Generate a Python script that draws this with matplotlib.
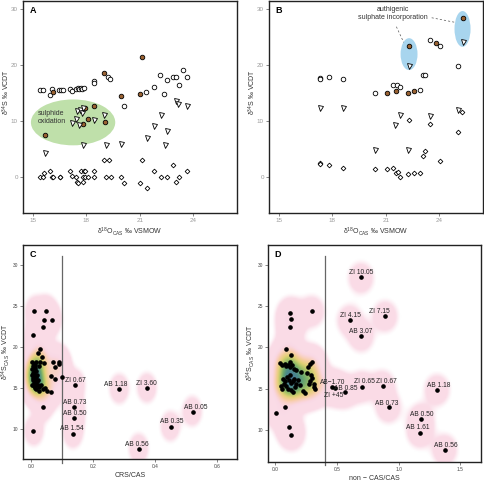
import numpy as np
import matplotlib.pyplot as plt
from matplotlib.patches import Ellipse
from matplotlib.colors import LinearSegmentedColormap

plt.rcParams['font.family'] = ['Liberation Sans', 'DejaVu Sans']
plt.rcParams['mathtext.fontset'] = 'custom'
plt.rcParams['mathtext.rm'] = 'Liberation Sans'
plt.rcParams['mathtext.it'] = 'Liberation Sans:italic'
plt.rcParams['mathtext.bf'] = 'Liberation Sans:bold'

# ---- panel A: d34S vs d18O(CAS)
a_circ_x = [15.43, 15.58, 16.08, 15.99, 16.46, 16.57, 16.70, 17.10, 17.22, 17.44, 17.52, 17.60, 17.70,
            17.78, 17.85, 18.41, 18.41, 19.22, 19.35, 20.09, 21.36, 21.81, 22.15, 22.37, 22.52, 22.84,
            23.04, 23.19, 23.41, 23.64]
a_circ_y = [15.4, 15.4, 15.6, 14.6, 15.4, 15.5, 15.5, 15.6, 15.3, 15.6, 15.9, 15.7, 15.9,
            15.6, 15.9, 17.1, 16.7, 17.8, 17.4, 12.7, 15.2, 16.0, 18.1, 14.7, 17.2, 17.9,
            17.8, 16.3, 19.1, 17.9]
a_brown_x = [15.67, 16.12, 17.95, 17.80, 18.10, 18.43, 18.99, 19.07, 19.96, 21.03, 21.14]
a_brown_y = [7.5, 15.1, 12.2, 9.4, 10.3, 12.7, 18.6, 9.7, 14.5, 14.8, 21.4]
a_tri_x = [15.67, 17.20, 17.44, 17.50, 17.67, 17.74, 17.84, 17.60, 17.80, 18.43, 19.00, 19.09, 19.96,
           21.38, 21.81, 22.18, 22.39, 22.52, 23.02, 23.17, 23.64]
a_tri_y = [4.3, 9.6, 10.3, 11.7, 12.0, 11.4, 12.2, 9.3, 5.6, 10.2, 11.1, 5.6, 5.9,
           7.0, 9.1, 11.1, 5.7, 8.1, 13.5, 12.9, 12.6]
a_dia_x = [15.43, 15.58, 15.65, 15.99, 16.08, 16.12, 16.50, 16.54, 17.09, 17.20,
           17.44, 17.48, 17.52, 17.72, 17.90, 17.95, 17.82, 17.95, 17.80, 18.08,
           18.43, 18.43, 19.00, 19.25, 19.09, 19.37, 19.96, 20.09, 21.03, 21.12,
           21.38, 21.81, 22.17, 22.52, 22.85, 23.02, 23.19, 23.64]
a_dia_y = [0, 0, 0.7, 1.0, 0, -0.1, 0, -0.1, 1.0, 0.2,
           -0.1, -0.9, -1.1, 1.0, 1.0, 1.0, 0, 0, -1.0, 0,
           0, 1.0, 3.0, 3.0, 0, 0, 0, -1.1, -1.1, 3.0,
           -2.0, 1.0, 0, 0, 2.0, -1.0, 0, 1.0]

# ---- panel B
b_circ_x = [17.32, 17.33, 17.83, 18.62, 20.38, 21.38, 21.64, 21.79, 22.89, 23.11, 23.20, 23.50, 24.06, 25.04]
b_circ_y = [17.6, 17.4, 17.9, 17.4, 15.0, 16.3, 16.4, 16.1, 15.4, 18.2, 18.2, 24.4, 23.3, 19.7]
b_brown_x = [21.08, 21.55, 22.23, 22.57, 23.81, 22.30, 25.30]
b_brown_y = [15.0, 15.3, 15.0, 15.3, 23.9, 23.3, 28.4]
b_tri_x = [17.30, 18.60, 20.38, 21.79, 21.53, 22.26, 23.50, 25.06, 22.30, 25.30]
b_tri_y = [12.2, 12.2, 4.8, 11.0, 9.3, 4.8, 10.9, 12.0, 19.7, 24.1]
b_dia_x = [17.32, 17.33, 17.83, 18.62, 20.38, 21.08, 21.38, 21.55, 21.70, 21.79,
           22.23, 22.57, 22.89, 23.11, 23.20, 24.06, 22.28, 23.50, 25.28, 25.04]
b_dia_y = [2.5, 2.3, 2.0, 1.6, 1.3, 1.3, 1.6, 0.6, 0.8, -0.1,
           0.5, 0.7, 0.7, 3.7, 4.5, 2.8, 10.2, 9.4, 11.5, 7.9]

# ---- panel C: d34S_CAS vs CRS/CAS
c_x = [0.011, 0.049, 0.043, 0.067, 0.040, 0.008, 0.030, 0.023, 0.036,
       0.004, 0.010, 0.006, 0.014, 0.018, 0.005, 0.015, 0.027, 0.030, 0.044,
       0.071, 0.090, 0.092, 0.079, 0.012, 0.017, 0.066, 0.079, 0.100,
       0.003, 0.006, 0.008, 0.010, 0.012, 0.014, 0.016, 0.018, 0.005, 0.009,
       0.013, 0.020, 0.022, 0.025, 0.011, 0.017, 0.028, 0.007, 0.019, 0.032,
       0.041, 0.046, 0.052, 0.027, 0.066, 0.038, 0.008]
c_y = [24.3, 24.4, 23.2, 23.3, 22.4, 21.4, 19.7, 19.2, 18.7,
       18.1, 17.9, 17.6, 17.8, 18.2, 17.3, 17.4, 17.6, 18.2, 18.0,
       18.2, 18.1, 17.9, 17.5, 16.9, 17.1, 16.4, 16.1, 16.3,
       16.5, 16.2, 15.9, 16.6, 16.1, 15.7, 16.3, 15.5, 15.4, 15.2,
       15.0, 15.8, 15.3, 16.0, 15.6, 14.9, 15.1, 16.8, 16.5, 15.4,
       14.8, 15.0, 14.55, 14.6, 14.5, 12.7, 9.7]
c_lab = ['ZI 0.67', 'AB 0.73', 'AB 0.50', 'AB 1.54', 'AB 1.18', 'ZI 3.60', 'AB 0.56', 'AB 0.35', 'AB 0.05']
c_lab_x = [0.143, 0.139, 0.139, 0.135, 0.285, 0.375, 0.348, 0.451, 0.522]
c_lab_y = [15.37, 12.68, 11.3, 9.4, 14.84, 14.96, 7.56, 10.28, 12.1]
c_nudge = [(0.5, 3.2), (0.5, 3.2), (1, 3.2), (-0.5, 3.6), (-2.4, 3.2), (-0.5, 3.6), (-1, 3.4), (0.5, 3.6), (2, 3.2)]

# ---- panel D: d34S_CAS vs non-CAS/CAS
d_x = [0.119, 0.295, 0.127, 0.119, 0.089, 0.130,
       0.040, 0.055, 0.075, 0.090, 0.105, 0.120, 0.135, 0.115, 0.150,
       0.279, 0.300, 0.265, 0.165, 0.210, 0.260,
       0.060, 0.080, 0.070, 0.095, 0.110, 0.120, 0.130, 0.090, 0.105, 0.140,
       0.155, 0.170, 0.180, 0.200, 0.160, 0.045, 0.050, 0.125, 0.140, 0.220,
       0.240, 0.290, 0.300, 0.270, 0.280, 0.310, 0.325, 0.310,
       0.079, 0.008, 0.108, 0.130]
d_y = [24.2, 24.4, 23.4, 22.4, 19.8, 19.1,
       18.1, 17.9, 18.0, 17.7, 17.9, 18.2, 17.8, 17.6, 17.4,
       18.0, 18.2, 17.6, 17.2, 17.0, 16.9,
       16.2, 15.9, 15.5, 16.4, 16.1, 16.6, 15.7, 15.3, 15.0, 15.9,
       16.2, 15.6, 16.0, 15.4, 15.2, 15.3, 15.0, 14.8, 14.6, 14.7,
       14.5, 16.7, 16.3, 15.6, 15.9, 15.2, 14.9, 15.6,
       12.8, 12.1, 10.3, 9.4]
d_lab = ['ZI 10.05', 'ZI 4.15', 'ZI 7.15', 'AB 3.07', 'AB\u22121.70', 'AB 0.85', 'ZI +45',
         'ZI 0.65', 'ZI 0.67', 'AB 1.18', 'AB 0.73', 'AB 0.50', 'AB 1.61', 'AB 0.56']
d_lab_x = [0.695, 0.603, 0.892, 0.697, 0.459, 0.486, 0.568, 0.703, 0.870, 1.316, 0.919, 1.184, 1.176, 1.378]
d_lab_y = [28.46, 23.3, 23.8, 21.38, 15.24, 15.04, 14.55, 15.24, 15.33, 14.84, 12.72, 11.3, 9.67, 7.56]
d_nudge = [(0, 3.4), (0.5, 3.4), (-4.6, 3.2), (-0.3, 3.4), (0.5, 3.2), (7.4, 0), (-8.6, -2.4),
           (2, 3.4), (2.6, 3.2), (0.7, 3.2), (-1.2, 3.2), (0.5, 3.2), (-2, 3.6), (0.5, 3.4)]

BROWN = '#9a6232'
GREY_TXT = '#9a9a9a'

dens_cmap = LinearSegmentedColormap.from_list('dens', [
    (0.00, (0.97, 0.78, 0.85)),
    (0.15, (0.97, 0.78, 0.85)),
    (0.28, (0.97, 0.78, 0.62)),
    (0.42, (0.88, 0.80, 0.40)),
    (0.56, (0.62, 0.74, 0.33)),
    (0.70, (0.36, 0.62, 0.36)),
    (0.84, (0.22, 0.50, 0.47)),
    (1.00, (0.20, 0.42, 0.56))])


def style(ax, xlim, ylim, xticks, yticks, xtl, letter, tcol, tsize):
    ax.set_xlim(*xlim)
    ax.set_ylim(*ylim)
    ax.set_xticks(xticks)
    ax.set_yticks(yticks)
    if xtl is not None:
        ax.set_xticklabels(xtl)
    ax.tick_params(direction='out', length=2.2, width=0.5, colors='#555555',
                   labelcolor=tcol, labelsize=tsize, pad=1.5)
    for s in ax.spines.values():
        s.set_linewidth(1.0)
        s.set_color('#222222')
    ax.text(0.03, 0.955, letter, transform=ax.transAxes, fontsize=6.5,
            fontweight='bold', va='center', ha='left')


def density(ax, x, y, hx, hy):
    x0, x1 = ax.get_xlim()
    y0, y1 = ax.get_ylim()
    gx = np.linspace(x0, x1, 160)
    gy = np.linspace(y0, y1, 160)
    X, Y = np.meshgrid(gx, gy)
    Z = np.zeros_like(X)
    for xi, yi in zip(x, y):
        Z += np.exp(-0.5 * (((X - xi) / hx) ** 2 + ((Y - yi) / hy) ** 2))
    zn = Z / Z.max()
    rgba = dens_cmap(zn)
    a = np.clip((Z - 0.12) / 0.25, 0, 1) * (0.62 + 0.28 * np.clip((zn - 0.1) / 0.2, 0, 1))
    rgba[..., 3] = a
    ax.imshow(rgba, extent=(x0, x1, y0, y1), origin='lower', aspect='auto',
              interpolation='bilinear', zorder=0)


fig = plt.figure(figsize=(4.84, 4.82), dpi=100)
axA = fig.add_axes([0.0475, 0.558, 0.442, 0.44])
axB = fig.add_axes([0.556, 0.558, 0.442, 0.44])
axC = fig.add_axes([0.0475, 0.048, 0.442, 0.444])
axD = fig.add_axes([0.554, 0.042, 0.440, 0.450])

xlab_o = '\u03b4$^{18}$O$_{\\rm CAS}$ \u2030 VSMOW'
ylab_s = '\u03b4$^{34}$S \u2030 VCDT'
ylab_cas = '\u03b4$^{34}$S$_{\\rm CAS}$ \u2030 VCDT'

mk = dict(ls='none', mec='black', mew=0.6, zorder=3)
for ax, cx, cy, bx, by, tx, ty, dx, dy, letter in [
        (axA, a_circ_x, a_circ_y, a_brown_x, a_brown_y, a_tri_x, a_tri_y, a_dia_x, a_dia_y, 'A'),
        (axB, b_circ_x, b_circ_y, b_brown_x, b_brown_y, b_tri_x, b_tri_y, b_dia_x, b_dia_y, 'B')]:
    ax.plot(cx, cy, 'o', ms=3.3, mfc='white', **mk)
    ax.plot(bx, by, 'o', ms=3.3, mfc=BROWN, **mk)
    ax.plot(tx, ty, 'v', ms=3.6, mfc='white', **mk)
    ax.plot(dx, dy, 'D', ms=2.4, mfc='white', **mk)
    style(ax, (14.45, 26.45), (-6.5, 31.4), [15, 18, 21, 24], [0, 10, 20, 30], None,
          letter, GREY_TXT, 4.5)
    ax.set_xlabel(xlab_o, fontsize=5, color='#333333', labelpad=1.5)
    ax.set_ylabel(ylab_s, fontsize=5, color='#333333', labelpad=1)
    ax.yaxis.set_label_coords(-0.052, 0.57)

# sulphide oxidation field
axA.add_patch(Ellipse((17.26, 9.7), 4.73, 8.2, facecolor='#bfe0aa', edgecolor='none', zorder=1))
axA.text(15.3, 10.6, 'sulphide\noxidation', fontsize=5, color='#333333', va='center', ha='left',
         linespacing=1.3, zorder=2)

# authigenic sulphate incorporation
axB.add_patch(Ellipse((22.3, 21.9), 0.95, 5.7, facecolor='#a8d5ee', edgecolor='none', zorder=1))
axB.add_patch(Ellipse((25.3, 26.4), 0.9, 6.4, facecolor='#a8d5ee', edgecolor='none', zorder=1))
axB.text(21.4, 29.1, 'authigenic\nsulphate incorporation', fontsize=5, color='#333333',
         ha='center', va='center', linespacing=1.2)
axB.plot([21.59, 22.0], [26.8, 24.0], ls=(0, (3, 3)), color='#555555', lw=0.5)
axB.plot([23.57, 24.85], [28.4, 27.6], ls=(0, (3, 3)), color='#555555', lw=0.5)

# panel C
style(axC, (-0.025, 0.665), (6.35, 32.4), [0, 0.2, 0.4, 0.6], [10, 15, 20, 25, 30],
      ['0.0', '0.2', '0.4', '0.6'], 'C', '#444444', 3.5)
density(axC, c_x + c_lab_x, c_y + c_lab_y, 0.019, 1.1)
axC.plot(c_x + c_lab_x, c_y + c_lab_y, 'o', ms=2.3, color='black', ls='none', zorder=3)
axC.plot([0.1, 0.1], [31.0, 5.9], color='#666666', lw=0.9, zorder=2, clip_on=False)
for t, x, y, (ox, oy) in zip(c_lab, c_lab_x, c_lab_y, c_nudge):
    axC.annotate(t, (x, y), xytext=(ox, oy), textcoords='offset points', ha='center',
                 va='center', fontsize=4.8, color='#222222', zorder=4)
axC.set_xlabel('CRS/CAS', fontsize=5, color='#333333', labelpad=2)
axC.set_ylabel(ylab_cas, fontsize=5, color='#333333', labelpad=1)
axC.yaxis.set_label_coords(-0.052, 0.5)

# panel D
style(axD, (-0.059, 1.67), (6.15, 32.4), [0, 0.5, 1.0, 1.5], [10, 15, 20, 25, 30],
      ['0.0', '0.5', '1.0', '1.5'], 'D', '#444444', 3.5)
density(axD, d_x + d_lab_x, d_y + d_lab_y, 0.062, 1.15)
axD.plot(d_x + d_lab_x, d_y + d_lab_y, 'o', ms=2.3, color='black', ls='none', zorder=3)
axD.plot([0.4, 0.4], [31.0, 5.7], color='#666666', lw=0.9, zorder=2, clip_on=False)
for t, x, y, (ox, oy) in zip(d_lab, d_lab_x, d_lab_y, d_nudge):
    axD.annotate(t, (x, y), xytext=(ox, oy), textcoords='offset points', ha='center',
                 va='center', fontsize=4.8, color='#222222', zorder=4)
axD.set_xlabel('non \u2212 CAS/CAS', fontsize=5, color='#333333', labelpad=2)
axD.set_ylabel(ylab_cas, fontsize=5, color='#333333', labelpad=1)
axD.yaxis.set_label_coords(-0.052, 0.5)

fig.savefig('out.png', dpi=100)
